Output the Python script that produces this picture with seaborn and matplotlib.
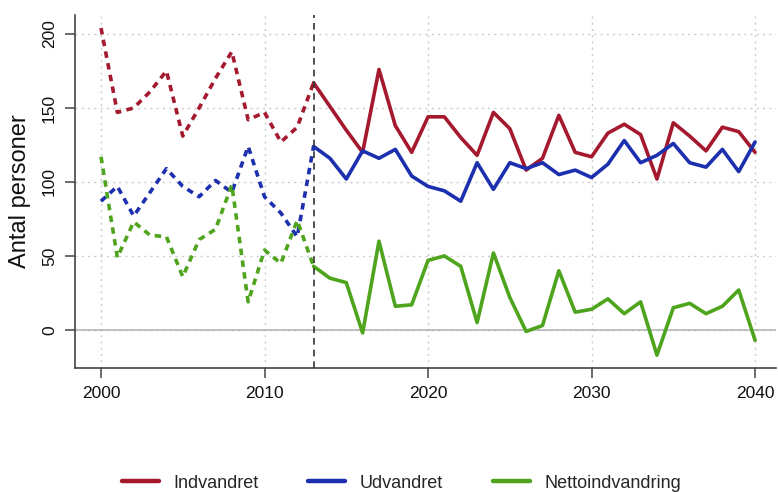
"""
plot.py
indvandrede, udvandrede og nettoindvandring 2000-2040
"""

import matplotlib.pyplot as plt
import pandas as pd
import seaborn as sns

sns.set_theme(style="white")
plt.rcParams["font.family"] = ["Liberation Sans", "DejaVu Sans"]

# historisk (stiplet) 2000-2013
years_hist = list(range(2000, 2014))
ind_hist = [204, 147, 150, 161, 175, 131, 150, 170, 188, 142, 147, 127, 137, 167]
ud_hist = [87, 97, 77, 93, 109, 97, 90, 101, 93, 124, 90, 79, 63, 124]
netto_hist = [117, 49, 73, 64, 63, 36, 61, 68, 98, 19, 54, 45, 74, 43]

# fremskrivning (fuld linje) 2013-2040
years_prog = list(range(2013, 2041))
ind_prog = [167, 151, 135, 120, 176, 138, 120, 144, 144, 130, 118, 147, 136, 108,
            116, 145, 120, 117, 133, 139, 132, 102, 140, 131, 121, 137, 134, 120]
ud_prog = [124, 116, 102, 121, 116, 122, 104, 97, 94, 87, 113, 95, 113, 109,
           113, 105, 108, 103, 112, 128, 113, 118, 126, 113, 110, 122, 107, 127]
netto_prog = [43, 35, 32, -2, 60, 16, 17, 47, 50, 43, 5, 52, 22, -1,
              3, 40, 12, 14, 21, 11, 19, -17, 15, 18, 11, 16, 27, -7]

series = ["Indvandret", "Udvandret", "Nettoindvandring"]
colors = {"Indvandret": "#a5192f", "Udvandret": "#1c2fae", "Nettoindvandring": "#4ea41c"}


def long_df(years, values):
    frames = []
    for name, vals in zip(series, values):
        frames.append(pd.DataFrame({"aar": years, "antal": vals, "serie": name}))
    return pd.concat(frames, ignore_index=True)


hist = long_df(years_hist, [ind_hist, ud_hist, netto_hist])
prog = long_df(years_prog, [ind_prog, ud_prog, netto_prog])

fig = plt.figure(figsize=(7.78, 4.92), dpi=100)
ax = fig.add_axes([75 / 778, 124 / 492, 701 / 778, 353 / 492])

ax.axhline(0, color="#b0b0b0", lw=1.1, zorder=1)
n_before = len(ax.lines)
sns.lineplot(data=hist, x="aar", y="antal", hue="serie", palette=colors,
             lw=2.6, legend=False, ax=ax)
for line in ax.lines[n_before:]:
    line.set_linestyle((0, (1.8, 1.5)))
sns.lineplot(data=prog, x="aar", y="antal", hue="serie", palette=colors,
             lw=2.6, ax=ax)
ax.axvline(2013, color="#333333", lw=1.2, ls=(0, (4, 3)), zorder=3)

ax.set_xlim(1998.41, 2041.28)
ax.set_ylim(-25.7, 212.8)
ax.set_xticks([2000, 2010, 2020, 2030, 2040])
ax.set_yticks([0, 50, 100, 150, 200])
ax.grid(True, color="#cccccc", ls=(0, (1.5, 3)), lw=1)
ax.set_axisbelow(True)

for side in ["top", "right"]:
    ax.spines[side].set_visible(False)
for side in ["left", "bottom"]:
    ax.spines[side].set_color("#444444")
    ax.spines[side].set_linewidth(1.2)

ax.tick_params(axis="both", direction="out", length=7, width=1.1, color="#444444",
               labelsize=12.5, labelcolor="#111111", pad=6, left=True, bottom=True)
plt.setp(ax.get_yticklabels(), rotation=90, va="center")
ax.set_xlabel("")
ax.set_ylabel("Antal personer", fontsize=17, labelpad=8, color="#111111")

handles, labels = ax.get_legend_handles_labels()
ax.get_legend().remove()
leg = fig.legend(handles, labels, loc="center", bbox_to_anchor=(0.516, 1 - 483 / 492),
                 ncol=3, frameon=False, fontsize=13, handlelength=2.05,
                 handletextpad=0.8, columnspacing=2.75)
for h in leg.get_lines():
    h.set_linewidth(3.2)

fig.savefig("out.png", dpi=100)
